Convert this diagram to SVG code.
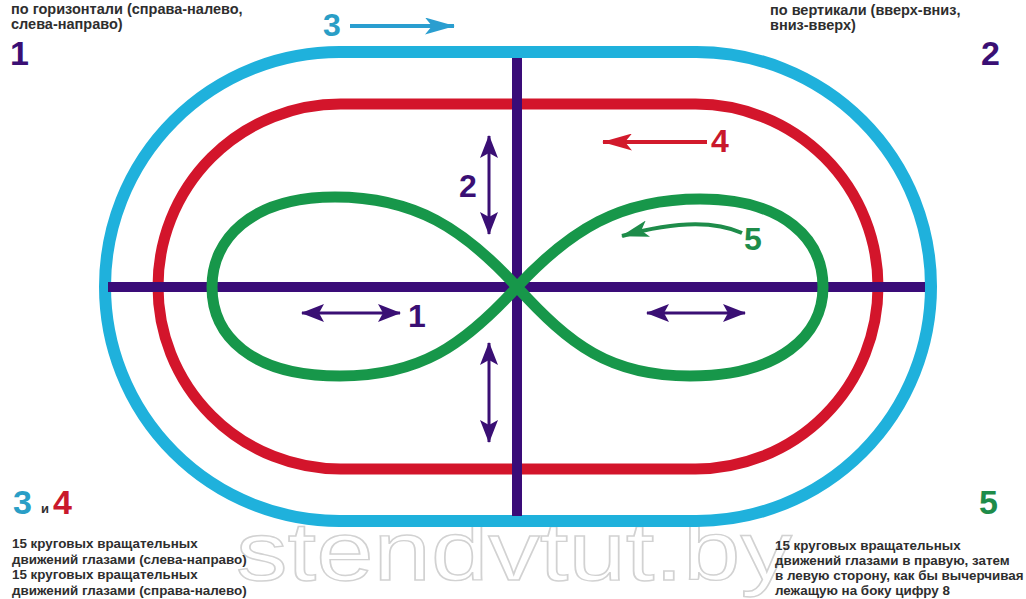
<svg xmlns="http://www.w3.org/2000/svg" width="1026" height="599" viewBox="0 0 1026 599">
<defs>
<style>
.txt{font-family:"Liberation Sans",Arial,sans-serif;font-weight:bold;fill:#2e2e2e}
.t1{font-size:14.5px}
.t2{font-size:13.4px}
.num{font-family:"Liberation Sans",Arial,sans-serif;font-weight:bold;font-size:34px}
.lbl{font-family:"Liberation Sans",Arial,sans-serif;font-weight:bold;font-size:32px}
.purple{fill:#3a0f74}
.blue{fill:#2a9ec6}
.red{fill:#c9182c}
.green{fill:#1e8c4a}
.track{fill:none}
</style>
<marker id="ahP" viewBox="0 0 23 18" markerWidth="23" markerHeight="18" refX="22" refY="9" orient="auto-start-reverse" markerUnits="userSpaceOnUse">
<path d="M0,0 L23,9 L0,18 L5,9 Z" fill="#3a0f74"/>
</marker>
<marker id="ahR" viewBox="0 0 30 17" markerWidth="30" markerHeight="17" refX="29" refY="8.5" orient="auto" markerUnits="userSpaceOnUse">
<path d="M0,0 L30,8.5 L0,17 L7,8.5 Z" fill="#d21a2c"/>
</marker>
<marker id="ahB" viewBox="0 0 30 17" markerWidth="30" markerHeight="17" refX="29" refY="8.5" orient="auto" markerUnits="userSpaceOnUse">
<path d="M0,0 L30,8.5 L0,17 L7,8.5 Z" fill="#2a9ed0"/>
</marker>
<marker id="ahG" viewBox="0 0 28 17" markerWidth="28" markerHeight="17" refX="27" refY="8.5" orient="auto" markerUnits="userSpaceOnUse">
<path d="M0,0 L28,8.5 L0,17 L7,8.5 Z" fill="#1e8c4a"/>
</marker>
</defs>
<rect width="1026" height="599" fill="#ffffff"/>

<!-- watermark -->
<text x="236" y="580" font-family="'Liberation Sans',Arial,sans-serif" font-size="84" textLength="556" lengthAdjust="spacingAndGlyphs" fill="none" stroke="#d2d2d2" stroke-width="1.4">stendvtut.by</text>

<g id="track-outer">
<rect class="track" x="105" y="52" width="826" height="469" rx="234.5" ry="234.5" stroke="#1fb1dc" stroke-width="12"/>
</g>
<g id="track-inner">
<rect class="track" x="158" y="104" width="720" height="365" rx="182.5" ry="182.5" stroke="#d3152b" stroke-width="11"/>
</g>
<g id="cross-horizontal">
<line x1="108" y1="287" x2="925" y2="287" stroke="#3a0c78" stroke-width="10"/>
</g>
<g id="cross-vertical">
<line x1="517" y1="58" x2="517" y2="516" stroke="#3a0c78" stroke-width="10"/>
</g>
<g id="figure8">
<path class="track" d="M517,287 C570,230 620,199 700,199 C785,199 823,240 823,287 C823,335 780,376 690,376 C610,376 570,345 517,287 C464,229 415,197 335,197 C250,197 212,240 212,287 C212,335 250,376 340,376 C420,376 464,345 517,287 Z" stroke="#17974a" stroke-width="11" stroke-linejoin="round"/>
</g>

<g id="connectors">
<line x1="302" y1="313" x2="400" y2="313" stroke="#3a0f74" stroke-width="3" marker-start="url(#ahP)" marker-end="url(#ahP)"/>
<line x1="647" y1="313" x2="745" y2="313" stroke="#3a0f74" stroke-width="3" marker-start="url(#ahP)" marker-end="url(#ahP)"/>
<line x1="489" y1="136" x2="489" y2="234" stroke="#3a0f74" stroke-width="3" marker-start="url(#ahP)" marker-end="url(#ahP)"/>
<line x1="489" y1="343" x2="489" y2="442" stroke="#3a0f74" stroke-width="3" marker-start="url(#ahP)" marker-end="url(#ahP)"/>
<line x1="707" y1="142" x2="603" y2="142" stroke="#d21a2c" stroke-width="4" marker-end="url(#ahR)"/>
<line x1="350" y1="26" x2="454" y2="26" stroke="#2a9ed0" stroke-width="4" marker-end="url(#ahB)"/>
<path d="M742,233 Q700,214 622,236" fill="none" stroke="#1e8c4a" stroke-width="4" marker-end="url(#ahG)"/>
</g>

<g id="inner-labels">
<text class="lbl purple" x="408" y="327">1</text>
<text class="lbl purple" x="459" y="197">2</text>
<text class="lbl blue" x="323" y="36">3</text>
<text class="lbl red" x="711" y="152">4</text>
<text class="lbl green" x="744" y="250">5</text>
</g>

<g id="note-1">
<text class="txt t1" x="11" y="14">по горизонтали (справа-налево,</text>
<text class="txt t1" x="11" y="29">слева-направо)</text>
<text class="num purple" x="10" y="65">1</text>
</g>
<g id="note-2">
<text class="txt t1" x="770" y="15">по вертикали (вверх-вниз,</text>
<text class="txt t1" x="770" y="30">вниз-вверх)</text>
<text class="num purple" x="981" y="65">2</text>
</g>
<g id="note-34">
<text class="num blue" x="13" y="514">3</text>
<text class="txt" x="41" y="513" font-size="13" fill="#7a1a2a">и</text>
<text class="num red" x="53" y="514">4</text>
<text class="txt t2" x="12" y="548">15 круговых вращательных</text>
<text class="txt t2" x="12" y="564">движений глазами (слева-направо)</text>
<text class="txt t2" x="12" y="579">15 круговых вращательных</text>
<text class="txt t2" x="12" y="595">движений глазами (справа-налево)</text>
</g>
<g id="note-5">
<text class="num green" x="979" y="514">5</text>
<text class="txt t2" x="775" y="550">15 круговых вращательных</text>
<text class="txt t2" x="775" y="565">движений глазами в правую, затем</text>
<text class="txt t2" x="775" y="580">в левую сторону, как бы вычерчивая</text>
<text class="txt t2" x="775" y="595">лежащую на боку цифру 8</text>
</g>
</svg>
